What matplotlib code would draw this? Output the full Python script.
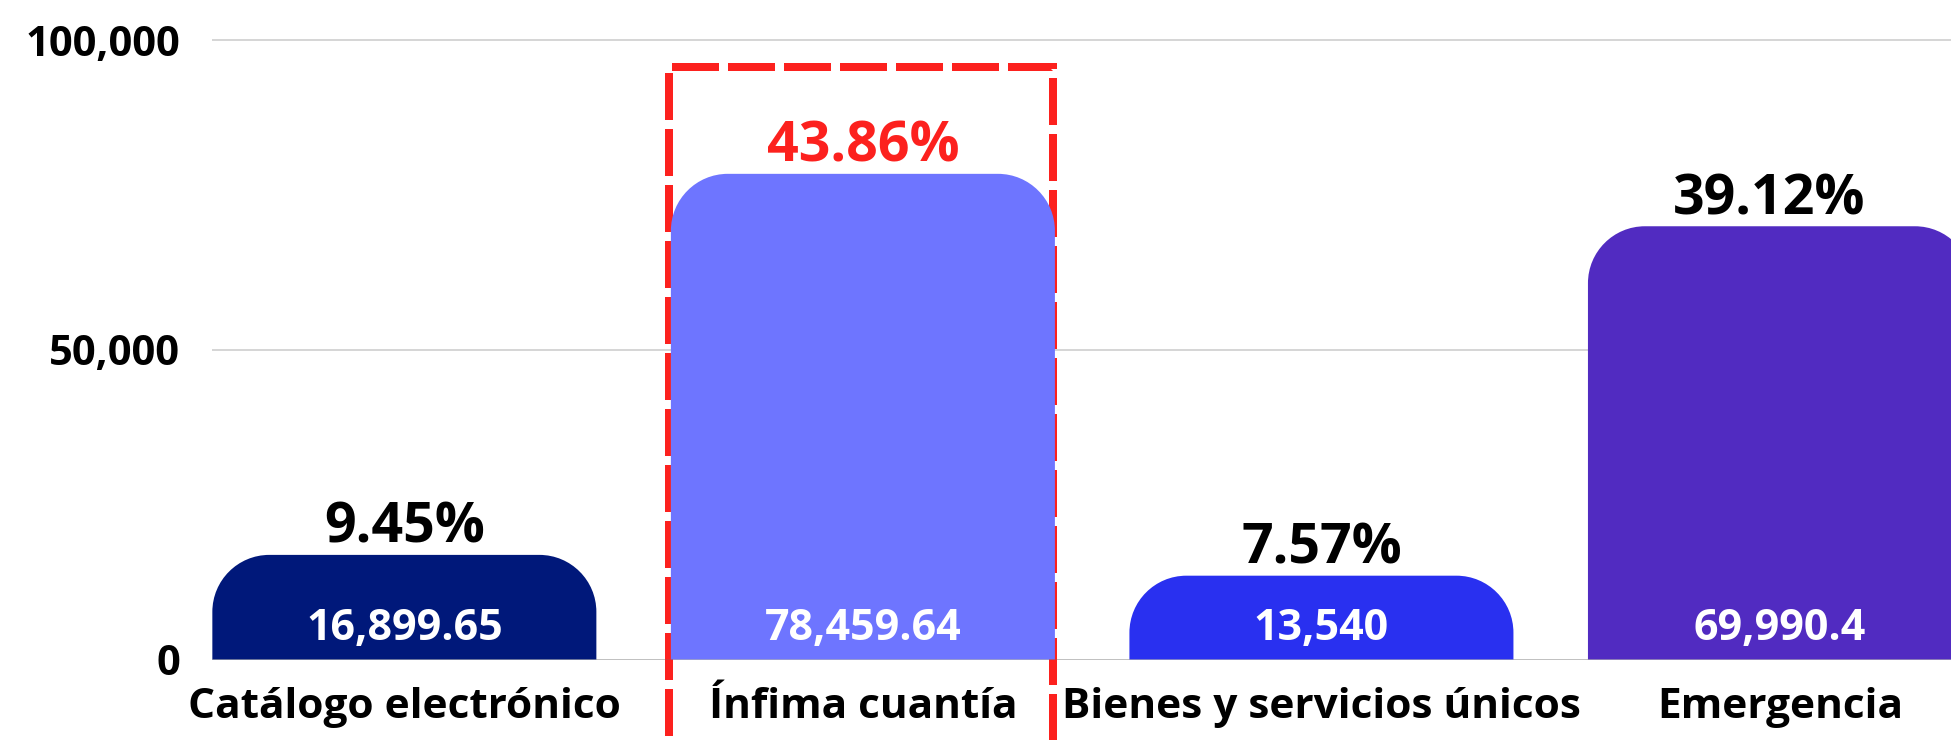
import matplotlib
matplotlib.use("Agg")
import matplotlib.pyplot as plt
from matplotlib.path import Path
from matplotlib.patches import PathPatch, Rectangle
from matplotlib.transforms import IdentityTransform
from matplotlib.ticker import FuncFormatter

# ---- data ----
categories = ["Catálogo electrónico", "Ínfima cuantía", "Bienes y servicios únicos", "Emergencia"]
values = [16899.65, 78459.64, 13540, 69990.4]
value_labels = ["16,899.65", "78,459.64", "13,540", "69,990.4"]
percent_labels = ["9.45%", "43.86%", "7.57%", "39.12%"]
colors = ["#00187A", "#6E75FF", "#2930F0", "#512BC1"]
yticks = [0, 50000, 100000]
highlight_index = 1

# ---- style ----
plt.rcParams['font.family'] = ['Open Sans', 'DejaVu Sans']
plt.rcParams['lines.scale_dashes'] = False
RED = "#FC211E"
W, H, DPI = 1951, 740, 100
PX = 72.0 / DPI  # points per pixel

fig = plt.figure(figsize=(W / DPI, H / DPI), dpi=DPI)
zero_px = 659.5          # y pixel (from top) of value 0
px_per_unit = 619 / 100000
ax_bottom = (H - zero_px) / H
ax_height = zero_px / H
ax = fig.add_axes([212 / W, ax_bottom, 1 - 212 / W, ax_height])
ax.set_xlim(-0.4195, 3.373)
ax.set_ylim(0, zero_px / px_per_unit)

for s in ax.spines.values():
    s.set_visible(False)

x = list(range(len(categories)))
bar_w = 0.8375
bars = ax.bar(x, values, width=bar_w, color=colors, zorder=3)

# replace rectangles by rounded-top shapes
r_px = 57
k = 0.5523
for rect, c in zip(bars, colors):
    rect.set_visible(False)
    (x0, y0), (x1, y1) = ax.transData.transform(
        [(rect.get_x(), rect.get_y()), (rect.get_x() + rect.get_width(), rect.get_y() + rect.get_height())])
    r = min(r_px, (x1 - x0) / 2, (y1 - y0))
    verts = [(x0, y0), (x0, y1 - r),
             (x0, y1 - r + k * r), (x0 + r - k * r, y1), (x0 + r, y1),
             (x1 - r, y1),
             (x1 - r + k * r, y1), (x1, y1 - r + k * r), (x1, y1 - r),
             (x1, y0), (x0, y0)]
    codes = [Path.MOVETO, Path.LINETO,
             Path.CURVE4, Path.CURVE4, Path.CURVE4,
             Path.LINETO,
             Path.CURVE4, Path.CURVE4, Path.CURVE4,
             Path.LINETO, Path.CLOSEPOLY]
    patch = PathPatch(Path(verts, codes), facecolor=c, edgecolor='none',
                      transform=IdentityTransform(), zorder=3, clip_on=False)
    ax.add_patch(patch)

# grid + baseline
ax.set_yticks(yticks)
ax.yaxis.set_major_formatter(FuncFormatter(lambda v, p: f"{v:,.0f}"))
ax.yaxis.grid(True, color="#cccccc", linewidth=1.6 * PX, zorder=0)
ax.set_axisbelow(True)
ax.axhline(0, color="#6f6f6f", linewidth=1.4 * PX, zorder=4)

ax.tick_params(axis='y', length=0, pad=32 * PX, labelsize=30)
for lbl in ax.get_yticklabels():
    lbl.set_fontweight('bold')

ax.set_xticks(x)
ax.set_xticklabels(categories, fontsize=30.5, fontweight='bold')
ax.tick_params(axis='x', length=0, pad=28 * PX)

# highlight dashed rectangle (behind bars)
hl_left = highlight_index - 0.422
hl_right = highlight_index + 0.414
hl_top = (zero_px - 67) / px_per_unit
hl = Rectangle((hl_left, -25000), hl_right - hl_left, hl_top + 25000,
               fill=False, edgecolor=RED, linewidth=8 * PX,
               linestyle=(0, (47 * PX, 9 * PX)), zorder=2.5, clip_on=False)
ax.add_patch(hl)

# labels
xmax = ax.get_xlim()[1]
for i, (v, vl, pl) in enumerate(zip(values, value_labels, percent_labels)):
    left = i - bar_w / 2
    right = min(i + bar_w / 2, xmax)
    ax.annotate(pl, ((left + right) / 2, v), xytext=(0, 12 * PX), textcoords='offset points',
                ha='center', va='baseline', fontsize=40, fontweight='bold',
                color=RED if i == highlight_index else 'black', zorder=5)
    ax.annotate(vl, (i, 0), xytext=(0, 19.5 * PX), textcoords='offset points',
                ha='center', va='baseline', fontsize=31, fontweight='bold',
                color='white', zorder=6)

fig.savefig("out.png", dpi=DPI)
